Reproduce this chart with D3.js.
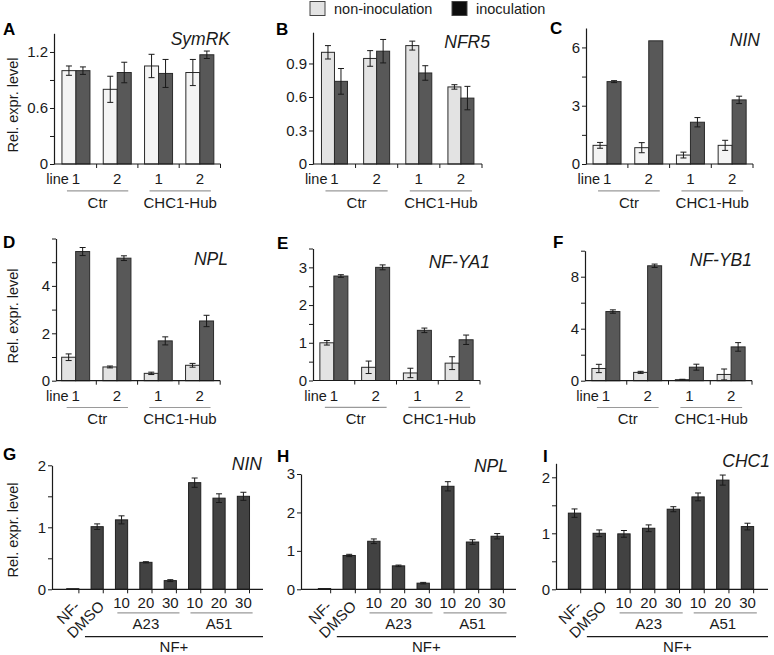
<!DOCTYPE html>
<html>
<head>
<meta charset="utf-8">
<script src="https://cdnjs.cloudflare.com/ajax/libs/d3/7.8.5/d3.min.js"></script>
<style>
  body { margin: 0; background: #fff; }
  svg { display: block; font-family: "Liberation Sans", Arial, sans-serif; }
</style>
</head>
<body>
<div id="chart"></div>
<script>
// ---- data ----
const lineLabels = ["1", "2", "1", "2"];
const genotypes = ["Ctr", "CHC1-Hub"];
const seriesNames = ["non-inoculation", "inoculation"];

// A-F: per line, non-inoculated / inoculated, mean and error
const symrkNon = [1.00, 0.80, 1.05, 0.98];
const symrkNonErr = [0.05, 0.14, 0.125, 0.14];
const symrkIno = [1.00, 0.98, 0.97, 1.17];
const symrkInoErr = [0.04, 0.11, 0.15, 0.04];

const nfr5Non = [1.00, 0.945, 1.06, 0.69];
const nfr5NonErr = [0.06, 0.07, 0.04, 0.02];
const nfr5Ino = [0.74, 1.01, 0.815, 0.59];
const nfr5InoErr = [0.115, 0.105, 0.065, 0.105];

const ninNon = [0.96, 0.84, 0.46, 0.96];
const ninNonErr = [0.15, 0.26, 0.15, 0.26];
const ninIno = [4.24, 6.34, 2.15, 3.30];
const ninInoErr = [0.05, 0, 0.24, 0.19];

const nplNon = [0.99, 0.58, 0.31, 0.65];
const nplNonErr = [0.14, 0.04, 0.05, 0.08];
const nplIno = [5.45, 5.17, 1.68, 2.52];
const nplInoErr = [0.17, 0.10, 0.17, 0.24];

const nfya1Non = [1.00, 0.35, 0.20, 0.46];
const nfya1NonErr = [0.06, 0.165, 0.125, 0.17];
const nfya1Ino = [2.77, 3.00, 1.33, 1.08];
const nfya1InoErr = [0.035, 0.065, 0.06, 0.125];

const nfyb1Non = [0.94, 0.64, 0.08, 0.48];
const nfyb1NonErr = [0.32, 0.08, 0.03, 0.42];
const nfyb1Ino = [5.32, 8.84, 1.04, 2.60];
const nfyb1InoErr = [0.13, 0.13, 0.23, 0.33];

// G-I: treatments
const treatments = ["NF-", "DMSO", "10", "20", "30", "10", "20", "30"];
const inhibitors = ["A23", "A51"];
const ninTreat = [0.01, 1.01, 1.12, 0.435, 0.14, 1.72, 1.47, 1.50];
const ninTreatErr = [0, 0.045, 0.065, 0.01, 0.015, 0.075, 0.07, 0.065];
const nplTreat = [0.02, 0.88, 1.25, 0.61, 0.16, 2.68, 1.23, 1.38];
const nplTreatErr = [0, 0.03, 0.06, 0.02, 0.02, 0.12, 0.06, 0.07];
const chc1Treat = [1.36, 1.00, 0.99, 1.09, 1.43, 1.65, 1.95, 1.12];
const chc1TreatErr = [0.075, 0.06, 0.06, 0.06, 0.045, 0.07, 0.09, 0.06];

// y ticks (all ticks / labelled ticks)
const ticksA = [0, 0.3, 0.6, 0.9, 1.2], labelsA = [0, 0.6, 1.2];
const ticksB = [0, 0.3, 0.6, 0.9], labelsB = [0, 0.3, 0.6, 0.9];
const ticksC = [0, 1.5, 3, 4.5, 6], labelsC = [0, 3, 6];
const ticksD = [0, 1, 2, 3, 4, 5, 6], labelsD = [0, 2, 4];
const ticksE = [0, 0.5, 1, 1.5, 2, 2.5, 3, 3.5], labelsE = [0, 1, 2, 3];
const ticksF = [0, 2, 4, 6, 8, 10], labelsF = [0, 4, 8];
const ticksG = [0, 0.5, 1, 1.5, 2], labelsG = [0, 1, 2];
const ticksH = [0, 1, 2, 3], labelsH = [0, 1, 2, 3];
const ticksI = [0, 0.5, 1, 1.5, 2], labelsI = [0, 1, 2];

// ---- layout ----
const width = 774, height = 655;
const lightTop = "#f4f4f4", lightGray = "#e3e3e3";
const darkTop = "#585858", darkBottom = "#424242";
const ink = "#1a1a1a";
const fs = "15px";

const svg = d3.select("#chart").append("svg")
    .attr("width", width)
    .attr("height", height);

const topPanels = [
    {letter: "A", gene: "SymRK", non: symrkNon, nonErr: symrkNonErr, ino: symrkIno, inoErr: symrkInoErr,
     ticks: ticksA, labels: labelsA, max: 1.4,
     ax: 54, base: 164, top: 33.3, gx0: 55.3, gx1: 220.5, bw: 14, light: lightTop,
     lx: 3, ly: 35, gxEnd: 230, gyBase: 45, ylab: 105},
    {letter: "B", gene: "NFR5", non: nfr5Non, nonErr: nfr5NonErr, ino: nfr5Ino, inoErr: nfr5InoErr,
     ticks: ticksB, labels: labelsB, max: 1.18,
     ax: 313, base: 164, top: 32.2, gx0: 313.4, gx1: 482, bw: 13, light: lightGray,
     lx: 276, ly: 35, gxEnd: 490, gyBase: 48},
    {letter: "C", gene: "NIN", non: ninNon, nonErr: ninNonErr, ino: ninIno, inoErr: ninInoErr,
     ticks: ticksC, labels: labelsC, max: 7,
     ax: 586, base: 164, top: 28, gx0: 586.2, gx1: 753, bw: 14, light: lightTop,
     lx: 550, ly: 34, gxEnd: 760, gyBase: 46},
    {letter: "D", gene: "NPL", non: nplNon, nonErr: nplNonErr, ino: nplIno, inoErr: nplInoErr,
     ticks: ticksD, labels: labelsD, max: 6,
     ax: 56, base: 380.7, top: 238.5, gx0: 55, gx1: 220.2, bw: 14, light: lightGray,
     lx: 3, ly: 248, gxEnd: 228, gyBase: 265, ylab: 316},
    {letter: "E", gene: "NF-YA1", non: nfya1Non, nonErr: nfya1NonErr, ino: nfya1Ino, inoErr: nfya1InoErr,
     ticks: ticksE, labels: labelsE, max: 3.5,
     ax: 313, base: 380.5, top: 248.5, gx0: 313, gx1: 480, bw: 14, light: lightGray,
     lx: 277, ly: 249, gxEnd: 490, gyBase: 268},
    {letter: "F", gene: "NF-YB1", non: nfyb1Non, nonErr: nfyb1NonErr, ino: nfyb1Ino, inoErr: nfyb1InoErr,
     ticks: ticksF, labels: labelsF, max: 10,
     ax: 585, base: 380.7, top: 250.7, gx0: 585, gx1: 752, bw: 14, light: lightGray,
     lx: 553, ly: 248, gxEnd: 752, gyBase: 266}
];

const bottomPanels = [
    {letter: "G", gene: "NIN", values: ninTreat, errs: ninTreatErr,
     ticks: ticksG, labels: labelsG, max: 2,
     ax: 52, base: 589.3, top: 465.3, bx0: 54.5, bx1: 261.7, axEnd: 263,
     lx: 3, ly: 460, gxEnd: 262, gyBase: 470, ylab: 530},
    {letter: "H", gene: "NPL", values: nplTreat, errs: nplTreatErr,
     ticks: ticksH, labels: labelsH, max: 3,
     ax: 301, base: 589.3, top: 474, bx0: 306, bx1: 515.7, axEnd: 516,
     lx: 277, ly: 462, gxEnd: 508, gyBase: 472},
    {letter: "I", gene: "CHC1", values: chc1Treat, errs: chc1TreatErr,
     ticks: ticksI, labels: labelsI, max: 2.25,
     ax: 556, base: 589.3, top: 463.3, bx0: 556, bx1: 766, axEnd: 768,
     lx: 543, ly: 462, gxEnd: 770, gyBase: 467}
];

// ---- helpers ----
function yAxis(g, p, y) {
    const axis = d3.axisLeft(y)
        .tickValues(p.ticks)
        .tickSize(4)
        .tickSizeOuter(0)
        .tickPadding(2)
        .tickFormat(d => p.labels.includes(d) ? String(d) : "");
    const ga = g.append("g")
        .attr("transform", `translate(${p.ax},0)`)
        .call(axis);
    ga.select(".domain").attr("stroke", ink).attr("stroke-width", 1.2);
    ga.selectAll(".tick line").attr("stroke", ink);
    ga.selectAll(".tick text")
        .attr("fill", ink)
        .style("font-size", fs)
        .style("font-family", "'Liberation Sans', Arial, sans-serif");
}

function errorBar(g, cx, y, v, e) {
    if (!e) return;
    const cap = 3;
    g.append("line")
        .attr("x1", cx).attr("x2", cx)
        .attr("y1", y(v - e)).attr("y2", y(v + e))
        .attr("stroke", ink).attr("stroke-width", 1);
    [v - e, v + e].forEach(t => {
        g.append("line")
            .attr("x1", cx - cap).attr("x2", cx + cap)
            .attr("y1", y(t)).attr("y2", y(t))
            .attr("stroke", ink).attr("stroke-width", 1);
    });
}

function panelTitle(g, p) {
    g.append("text")
        .attr("x", p.lx).attr("y", p.ly)
        .style("font-size", "17px")
        .style("font-weight", "bold")
        .attr("fill", "#000")
        .text(p.letter);
    g.append("text")
        .attr("x", p.gxEnd).attr("y", p.gyBase)
        .attr("text-anchor", "end")
        .style("font-size", "17.5px")
        .style("font-style", "italic")
        .attr("fill", ink)
        .text(p.gene);
    if (p.ylab) {
        g.append("text")
            .attr("transform", `translate(18,${p.ylab}) rotate(-90)`)
            .attr("text-anchor", "middle")
            .style("font-size", "14.5px")
            .attr("fill", ink)
            .text("Rel. expr. level");
    }
}

// ---- A-F: grouped bars ----
function drawTop(p) {
    const g = svg.append("g");
    const y = d3.scaleLinear().domain([0, p.max]).range([p.base, p.top]);
    const x0 = d3.scaleBand().domain(d3.range(lineLabels.length)).range([p.gx0, p.gx1]);
    const bw = x0.bandwidth();
    const x1 = d3.scaleBand().domain(seriesNames).range([bw / 2 - p.bw, bw / 2 + p.bw]);
    const rows = d3.range(lineLabels.length).flatMap(i => [
        {i, s: seriesNames[0], v: p.non[i], e: p.nonErr[i]},
        {i, s: seriesNames[1], v: p.ino[i], e: p.inoErr[i]}
    ]);

    g.selectAll("rect.bar")
        .data(rows)
        .join("rect")
        .attr("class", "bar")
        .attr("x", d => x0(d.i) + x1(d.s))
        .attr("y", d => y(d.v))
        .attr("width", x1.bandwidth())
        .attr("height", d => y(0) - y(d.v))
        .attr("fill", d => d.s === seriesNames[0] ? p.light : darkTop)
        .attr("stroke", "#2a2a2a")
        .attr("stroke-width", 1);

    rows.forEach(d => errorBar(g, x0(d.i) + x1(d.s) + x1.bandwidth() / 2, y, d.v, d.e));

    yAxis(g, p, y);

    // x axis line with ticks between lines
    g.append("line")
        .attr("x1", p.ax).attr("x2", p.gx1)
        .attr("y1", p.base).attr("y2", p.base)
        .attr("stroke", ink).attr("stroke-width", 1.2);
    d3.range(lineLabels.length).forEach(i => {
        const tx = x0(i) + bw;
        g.append("line")
            .attr("x1", tx).attr("x2", tx)
            .attr("y1", p.base).attr("y2", p.base + 4)
            .attr("stroke", ink);
    });

    // line labels
    const cx = i => x0(i) + bw / 2;
    g.selectAll("text.line-lab")
        .data(lineLabels)
        .join("text")
        .attr("class", "line-lab")
        .attr("x", (d, i) => cx(i))
        .attr("y", p.base + 20)
        .attr("text-anchor", "middle")
        .style("font-size", fs)
        .attr("fill", ink)
        .text(d => d);
    g.append("text")
        .attr("x", cx(0) - 7)
        .attr("y", p.base + 20)
        .attr("text-anchor", "end")
        .style("font-size", "14.5px")
        .attr("fill", ink)
        .text("line");

    // genotype brackets
    genotypes.forEach((name, k) => {
        const a = cx(2 * k), b = cx(2 * k + 1);
        g.append("line")
            .attr("x1", a - 9).attr("x2", b + 11)
            .attr("y1", p.base + 26.8).attr("y2", p.base + 26.8)
            .attr("stroke", "#9a9a9a").attr("stroke-width", 1.2);
        g.append("text")
            .attr("x", (a + b) / 2 + 1)
            .attr("y", p.base + 43.5)
            .attr("text-anchor", "middle")
            .style("font-size", fs)
            .attr("fill", ink)
            .text(name);
    });

    panelTitle(g, p);
}

// ---- G-I: single series ----
function drawBottom(p) {
    const g = svg.append("g");
    const y = d3.scaleLinear().domain([0, p.max]).range([p.base, p.top]);
    const x = d3.scaleBand().domain(d3.range(treatments.length)).range([p.bx0, p.bx1]).padding(0.5);
    const step = x.step();
    const rows = treatments.map((t, i) => ({i, t, v: p.values[i], e: p.errs[i]}));

    g.selectAll("rect.bar")
        .data(rows)
        .join("rect")
        .attr("class", "bar")
        .attr("x", d => x(d.i))
        .attr("y", d => y(d.v))
        .attr("width", x.bandwidth())
        .attr("height", d => y(0) - y(d.v))
        .attr("fill", darkBottom)
        .attr("stroke", "#1f1f1f")
        .attr("stroke-width", 1);

    rows.forEach(d => errorBar(g, x(d.i) + x.bandwidth() / 2, y, d.v, d.e));

    yAxis(g, p, y);

    const start = i => x(i) - x.paddingInner() * step / 2;
    const center = i => x(i) + x.bandwidth() / 2;

    g.append("line")
        .attr("x1", p.ax).attr("x2", p.axEnd)
        .attr("y1", p.base).attr("y2", p.base)
        .attr("stroke", ink).attr("stroke-width", 1.2);
    d3.range(1, treatments.length + 1).forEach(i => {
        const tx = p.bx0 + i * step;
        g.append("line")
            .attr("x1", tx).attr("x2", tx)
            .attr("y1", p.base).attr("y2", p.base + 4)
            .attr("stroke", ink);
    });

    // rotated labels for the two controls, plain labels for doses
    rows.forEach(d => {
        if (d.i < 2) {
            g.append("text")
                .attr("transform", `translate(${center(d.i) + 8},${p.base + 18}) rotate(-45)`)
                .attr("text-anchor", "end")
                .style("font-size", fs)
                .attr("fill", ink)
                .text(d.t);
        } else {
            g.append("text")
                .attr("x", center(d.i))
                .attr("y", p.base + 18.7)
                .attr("text-anchor", "middle")
                .style("font-size", fs)
                .attr("fill", ink)
                .text(d.t);
        }
    });

    inhibitors.forEach((name, k) => {
        const a = 2 + 3 * k, b = a + 2;
        const x1 = start(a) + 8, x2 = start(b) + step - 3;
        g.append("line")
            .attr("x1", x1).attr("x2", x2)
            .attr("y1", p.base + 23.6).attr("y2", p.base + 23.6)
            .attr("stroke", "#9a9a9a").attr("stroke-width", 1.2);
        g.append("text")
            .attr("x", center(a + 1))
            .attr("y", p.base + 39.7)
            .attr("text-anchor", "middle")
            .style("font-size", fs)
            .attr("fill", ink)
            .text(name);
    });

    // NF+ bracket
    const nx1 = start(1), nx2 = p.axEnd;
    g.append("line")
        .attr("x1", nx1).attr("x2", nx2)
        .attr("y1", p.base + 47.4).attr("y2", p.base + 47.4)
        .attr("stroke", ink).attr("stroke-width", 1.3);
    g.append("text")
        .attr("x", (nx1 + nx2) / 2)
        .attr("y", p.base + 62.6)
        .attr("text-anchor", "middle")
        .style("font-size", fs)
        .attr("fill", ink)
        .text("NF+");

    panelTitle(g, p);
}

topPanels.forEach(drawTop);
bottomPanels.forEach(drawBottom);

// ---- legend ----
const legend = svg.append("g").attr("class", "legend");
const legendItems = [
    {name: seriesNames[0], fill: lightGray, x: 310},
    {name: seriesNames[1], fill: "#0d0d0d", x: 452}
];
legend.selectAll("rect")
    .data(legendItems)
    .join("rect")
    .attr("x", d => d.x).attr("y", 1.5)
    .attr("width", 15).attr("height", 14)
    .attr("fill", d => d.fill)
    .attr("stroke", "#444").attr("stroke-width", 1);
legend.selectAll("text")
    .data(legendItems)
    .join("text")
    .attr("x", d => d.x + 24).attr("y", 13.5)
    .style("font-size", "14.5px")
    .attr("fill", ink)
    .text(d => d.name);
</script>
</body>
</html>
